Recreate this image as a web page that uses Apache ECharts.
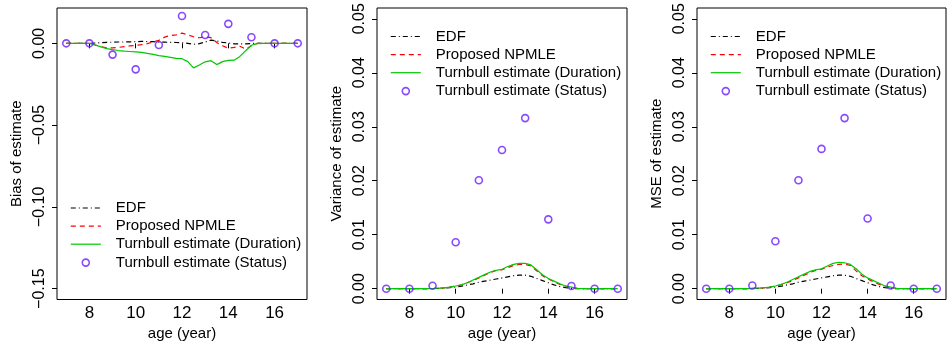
<!DOCTYPE html>
<html>
<head>
<meta charset="utf-8">
<script src="https://cdn.jsdelivr.net/npm/echarts@6/dist/echarts.min.js"></script>
<style>html,body{margin:0;padding:0;background:#fff}#c{width:947px;height:350px}</style>
</head>
<body>
<div id="c"></div>
<script>
// ---------- data ----------
const ages = [7,7.25,7.5,7.75,8,8.25,8.5,8.75,9,9.25,9.5,9.75,10,10.25,10.5,10.75,11,11.25,11.5,11.75,12,12.25,12.5,12.75,13,13.25,13.5,13.75,14,14.25,14.5,14.75,15,15.25,15.5,15.75,16,16.25,16.5,16.75,17];
const statusAges = [7,8,9,10,11,12,13,14,15,16,17];
const xTicks = [8,10,12,14,16];
const biasTicks = [-0.15,-0.10,-0.05,0.00];
const varTicks = [0,0.01,0.02,0.03,0.04,0.05];
const seriesNames = ['EDF','Proposed NPMLE','Turnbull estimate (Duration)','Turnbull estimate (Status)'];
const yTitles = ['Bias of estimate','Variance of estimate','MSE of estimate'];
const xTitle = 'age (year)';

const biasEDF = [0,0,0,0,0,0.0002,0.0004,0.0006,0.0007,0.0008,0.0008,0.0009,0.0010,0.0012,0.0011,0.0010,0.0008,0.0007,0.0006,0.0005,0.0003,0.0000,-0.0006,-0.0002,0.0008,0.0020,0.0014,0.0006,0.0002,-0.0003,-0.0004,-0.0003,-0.0001,0,0,0,0,0,0,0,0];
const biasNPMLE = [0,0,0,0,0,-0.0010,-0.0020,-0.0027,-0.0028,-0.0025,-0.0020,-0.0016,-0.0012,-0.0008,-0.0002,0.0008,0.0018,0.0038,0.0048,0.0052,0.0062,0.0052,0.0040,0.0034,0.0040,0.0035,0.0005,-0.0015,-0.0030,-0.0025,-0.0018,-0.0035,-0.0015,0,0,0,0,0,0,0,0];
const biasDuration = [0,0,0,0,0,-0.0010,-0.0022,-0.0032,-0.0039,-0.0044,-0.0048,-0.0050,-0.0052,-0.0055,-0.0061,-0.0068,-0.0075,-0.0080,-0.0086,-0.0092,-0.0094,-0.0112,-0.0150,-0.0132,-0.0113,-0.0106,-0.0130,-0.0112,-0.0104,-0.0103,-0.0080,-0.0045,-0.0012,-0.0002,0,0,0,0,0,0,0];
const biasStatus = [0,0,-0.0069,-0.0159,-0.0010,0.0167,0.0051,0.0119,0.0037,0,0];

const varEDF = [0,0,0,0,0,0,0.00001,0.00002,0.00004,0.00007,0.00012,0.0002,0.0003,0.00045,0.0007,0.0009,0.0012,0.0014,0.0016,0.0018,0.0020,0.0022,0.0024,0.0025,0.0025,0.0023,0.0019,0.0015,0.0011,0.0007,0.0004,0.0002,0.00006,0.00001,0,0,0,0,0,0,0];
const varNPMLE = [0,0,0,0,0,0,0.00001,0.00002,0.00004,0.00008,0.00015,0.0003,0.00048,0.0007,0.0011,0.0015,0.0020,0.0025,0.0030,0.0034,0.0035,0.0039,0.0043,0.0045,0.0045,0.0042,0.0033,0.0024,0.0018,0.0013,0.0008,0.0005,0.0002,0.00005,0,0,0,0,0,0,0];
const varDuration = [0,0,0,0,0,0,0.00001,0.00002,0.00004,0.00008,0.00015,0.0003,0.0005,0.0007,0.0011,0.0016,0.0021,0.0026,0.0031,0.0034,0.0036,0.0041,0.0045,0.0047,0.0047,0.0044,0.0035,0.0026,0.0019,0.0014,0.0009,0.0005,0.0003,0.00005,0,0,0,0,0,0,0];
const varStatus = [0,0,0.00056,0.0086,0.0201,0.0257,0.0316,0.01285,0.0005,0,0];

const mseEDF = [0,0,0,0,0,0,0.00001,0.00002,0.00004,0.00007,0.00012,0.0002,0.0003,0.00045,0.0007,0.0009,0.0012,0.0014,0.0016,0.0018,0.0020,0.0022,0.0024,0.0025,0.0025,0.0023,0.0019,0.0015,0.0011,0.0007,0.0004,0.0002,0.00006,0.00001,0,0,0,0,0,0,0];
const mseNPMLE = [0,0,0,0,0,0,0.00001,0.00002,0.00005,0.00009,0.00016,0.0003,0.0005,0.0007,0.0011,0.0015,0.0020,0.0025,0.0030,0.0034,0.0036,0.0040,0.0043,0.0045,0.0046,0.0043,0.0033,0.0024,0.0018,0.0013,0.0008,0.0005,0.0002,0.00005,0,0,0,0,0,0,0];
const mseDuration = [0,0,0,0,0,0,0.00001,0.00003,0.00006,0.0001,0.00018,0.0003,0.0005,0.0008,0.0012,0.0017,0.0022,0.0027,0.0032,0.0035,0.0037,0.0042,0.0047,0.0049,0.0048,0.0045,0.0037,0.0027,0.0020,0.0015,0.0010,0.0005,0.0003,0.00005,0,0,0,0,0,0,0];
const mseStatus = [0,0,0.0006,0.0088,0.0201,0.0259,0.0316,0.0130,0.0006,0,0];

// ---------- chart ----------
const FONT = 'Liberation Sans, Arial, Helvetica, sans-serif';
const colors = ['#000000','#FF0000','#00C800','#6A1BFF'];
const panels = [
  {lines:[biasEDF,biasNPMLE,biasDuration], pts:biasStatus, ymin:-0.1566, ymax:0.0216, ticks:biasTicks, left:57, width:250, legendLeft:70, legendTop:200.5},
  {lines:[varEDF,varNPMLE,varDuration], pts:varStatus, ymin:-0.002, ymax:0.052, ticks:varTicks, left:377, width:250, legendLeft:390, legendTop:29},
  {lines:[mseEDF,mseNPMLE,mseDuration], pts:mseStatus, ymin:-0.002, ymax:0.052, ticks:varTicks, left:697, width:249, legendLeft:710, legendTop:29}
];
const lineTypes = [[5,3,1,3],[5,4],'solid'];
const fmt = v => v.toFixed(2).replace('-', '\u2212');

const grid=[], xAxis=[], yAxis=[], series=[], legend=[];
panels.forEach((p,i)=>{
  grid.push({left:p.left, top:8, width:p.width, height:291.5, show:true, borderColor:'#000', borderWidth:1, backgroundColor:'#fff'});
  xAxis.push({type:'value', gridIndex:i, min:6.6, max:17.4,
    axisLine:{show:false}, splitLine:{show:false},
    axisTick:{show:true, inside:false, length:5, lineStyle:{color:'#000'}, customValues:xTicks},
    axisLabel:{show:true, fontSize:17, color:'#000', fontFamily:FONT, margin:5, customValues:xTicks, formatter:v=>String(v)},
    name:xTitle, nameLocation:'middle', nameGap:27, nameTextStyle:{fontSize:15, color:'#000', fontFamily:FONT}});
  yAxis.push({type:'value', gridIndex:i, min:p.ymin, max:p.ymax,
    axisLine:{show:false}, splitLine:{show:false},
    axisTick:{show:true, inside:false, length:5, lineStyle:{color:'#000'}, customValues:p.ticks},
    axisLabel:{show:true, fontSize:16, color:'#000', fontFamily:FONT, rotate:90, margin:9, customValues:p.ticks, formatter:fmt},
    name:yTitles[i], nameLocation:'middle', nameGap:33, nameTextStyle:{fontSize:15, color:'#000', fontFamily:FONT}});
  p.lines.forEach((vals,k)=>{
    series.push({type:'line', name:seriesNames[k], xAxisIndex:i, yAxisIndex:i, symbol:'none', silent:true,
      data: ages.map((a,j)=>[a, vals[j]]),
      lineStyle:{color:colors[k], width:1.2, type:lineTypes[k]}, itemStyle:{color:colors[k]}, z:2+k});
  });
  series.push({type:'scatter', name:seriesNames[3], xAxisIndex:i, yAxisIndex:i, symbol:'circle', symbolSize:7, silent:true,
    data: statusAges.map((a,j)=>[a, p.pts[j]]),
    itemStyle:{color:'rgba(0,0,0,0)', borderColor:colors[3], borderWidth:1.6}, z:6});
  legend.push({orient:'vertical', left:p.legendLeft, top:p.legendTop, padding:0, itemWidth:30, itemHeight:14, itemGap:3.1,
    selectedMode:false, backgroundColor:'transparent',
    textStyle:{fontSize:15, color:'#000', fontFamily:FONT, padding:[0,0,0,10]},
    lineStyle:{width:1.2},
    data:[
      {name:seriesNames[0], itemStyle:{opacity:0}},
      {name:seriesNames[1], itemStyle:{opacity:0}},
      {name:seriesNames[2], itemStyle:{opacity:0}},
      {name:seriesNames[3], icon:'path://M0,0M30,14M18.5,7A3.5,3.5,0,1,1,11.5,7A3.5,3.5,0,1,1,18.5,7Z',
        itemStyle:{color:'rgba(0,0,0,0)', borderColor:colors[3], borderWidth:1.6}}
    ]});
});

const chart = echarts.init(document.getElementById('c'), null, {renderer:'canvas'});
chart.setOption({animation:false, backgroundColor:'#fff', grid, xAxis, yAxis, series, legend});
</script>
</body>
</html>
